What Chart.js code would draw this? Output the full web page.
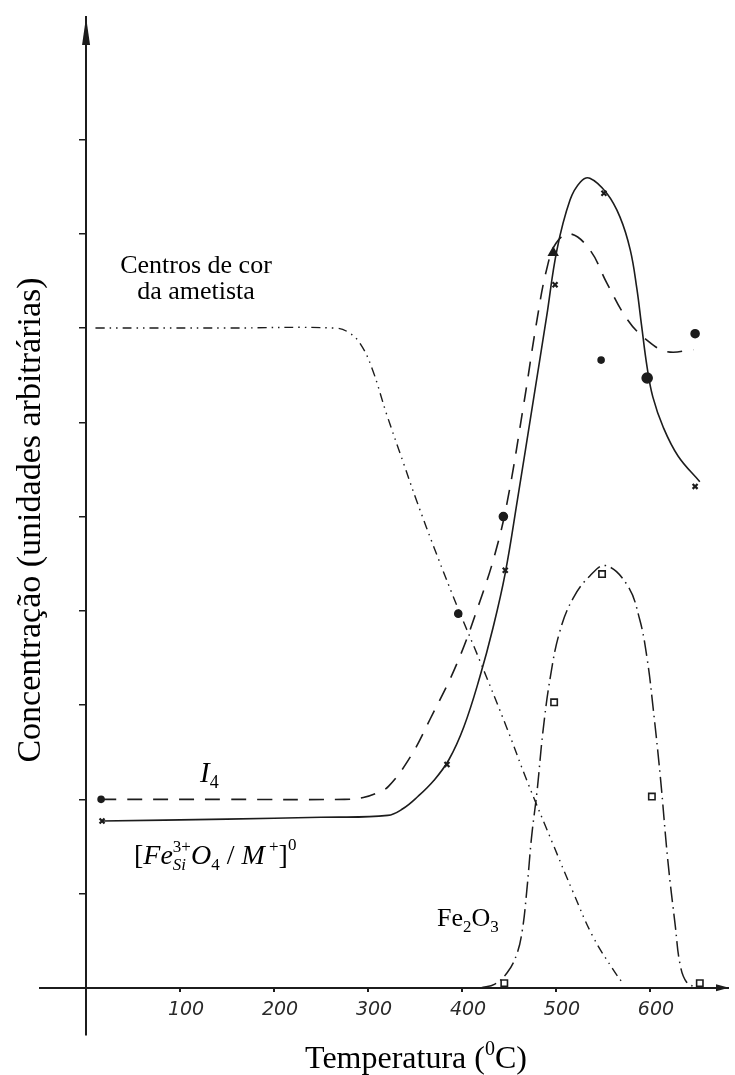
<!DOCTYPE html>
<html lang="pt">
<head>
<meta charset="utf-8">
<title>Concentração x Temperatura</title>
<script src="https://cdn.jsdelivr.net/npm/chart.js@4.4.1/dist/chart.umd.min.js"></script>
<style>
  html, body { margin: 0; padding: 0; background: #fff; }
  #chart { display: block; }
</style>
</head>
<body>
<canvas id="chart" width="735" height="1075"></canvas>
<script>
// curves: temperature (0C) vs concentration (1 unit = one axis tick)
const feSiTemp = [17, 150, 250, 321, 337, 353, 370, 386, 402, 419, 433, 446, 459, 476, 490, 501, 515, 526, 536, 554, 568, 579, 586, 591, 597, 603, 614, 630, 653];
const feSiConc = [1.77, 1.79, 1.81, 1.83, 1.9, 2.03, 2.2, 2.42, 2.77, 3.3, 3.82, 4.4, 5.18, 6.24, 7.12, 7.83, 8.36, 8.55, 8.59, 8.43, 8.18, 7.83, 7.42, 7.03, 6.58, 6.27, 5.95, 5.64, 5.37];

const i4Temp = [16, 150, 275, 295, 310, 322, 345, 366, 395, 419, 435, 448, 465, 480, 490, 500, 515, 536, 554, 576, 597, 618, 646];
const i4Conc = [2.0, 2.0, 2.0, 2.02, 2.07, 2.14, 2.45, 2.85, 3.45, 4.1, 4.6, 5.15, 6.15, 7.1, 7.62, 7.9, 8.0, 7.83, 7.48, 7.09, 6.87, 6.75, 6.77];

const centrosTemp = [10, 150, 265, 280, 292, 304, 320, 338, 352, 373, 396, 419, 448, 469, 497, 518, 539, 561, 571];
const centrosConc = [7.0, 7.0, 7.0, 6.95, 6.83, 6.58, 6.08, 5.56, 5.16, 4.6, 4.02, 3.47, 2.75, 2.2, 1.52, 1.02, 0.55, 0.19, 0.05];

const fe2o3Temp = [420, 435, 448, 458, 464, 469, 474, 480, 486, 494, 504, 518, 536, 553, 576, 589, 597, 603, 611, 619, 627, 632, 639, 650];
const fe2o3Conc = [0, 0.04, 0.16, 0.35, 0.6, 1.04, 1.6, 2.1, 2.71, 3.3, 3.78, 4.13, 4.37, 4.48, 4.27, 3.91, 3.49, 3.0, 2.24, 1.35, 0.65, 0.25, 0.06, 0];

// measured points
const feSiPtTemp = [17, 384, 446, 499, 551, 648];
const feSiPtConc = [1.77, 2.37, 4.43, 7.46, 8.43, 5.32];
const i4PtTemp = [16, 444, 548, 597, 648];
const i4PtConc = [2.0, 5.0, 6.66, 6.47, 6.94];
const centrosPtTemp = [396];
const centrosPtConc = [3.97];
const trianglePtTemp = [497];
const trianglePtConc = [7.8];
const fe2o3PtTemp = [445, 498, 549, 602, 653];
const fe2o3PtConc = [0.05, 3.03, 4.39, 2.03, 0.05];

const xTicks = [100, 200, 300, 400, 500, 600];
const yTicks = [1, 2, 3, 4, 5, 6, 7, 8, 9];

const ink = "#1c1c1c";
const pts = (xs, ys) => xs.map((t, i) => ({ x: t, y: ys[i] }));

function curve(xs, ys, dash, width) {
  return {
    data: pts(xs, ys),
    showLine: true,
    borderColor: ink,
    borderWidth: width,
    borderDash: dash,
    tension: 0.4,
    pointRadius: 0,
    fill: false,
  };
}

function marks(xs, ys, style, radius, filled, lw) {
  return {
    data: pts(xs, ys),
    showLine: false,
    pointStyle: style,
    pointRadius: radius,
    pointBorderWidth: lw || 1.6,
    pointBorderColor: ink,
    pointBackgroundColor: filled ? ink : "#fff",
  };
}

// draws text made of pieces with sub/superscripts
function richText(ctx, x, y, parts) {
  let cx = x;
  let held = 0;
  parts.forEach((p) => {
    ctx.font = p.f;
    ctx.fillText(p.t, cx, y + (p.dy || 0));
    const w = ctx.measureText(p.t).width;
    if (p.keep) {
      held = Math.max(held, w);
    } else {
      cx += Math.max(held, w);
      held = 0;
    }
  });
  return cx;
}

const serif = "'Liberation Serif', 'Times New Roman', serif";

const figureText = {
  id: "figureText",
  afterDraw(chart) {
    const ctx = chart.ctx;
    const xs = chart.scales.x;
    const ys = chart.scales.y;
    const x0 = xs.getPixelForValue(0);
    const y0 = ys.getPixelForValue(0);
    const area = chart.chartArea;

    ctx.save();
    ctx.fillStyle = ink;

    // arrow heads
    ctx.beginPath();
    ctx.moveTo(x0, area.top);
    ctx.lineTo(x0 - 4, area.top + 28);
    ctx.lineTo(x0 + 4, area.top + 28);
    ctx.closePath();
    ctx.fill();

    ctx.beginPath();
    ctx.moveTo(area.right + 1, y0);
    ctx.lineTo(area.right - 12, y0 - 3.5);
    ctx.lineTo(area.right - 12, y0 + 3.5);
    ctx.closePath();
    ctx.fill();

    ctx.textBaseline = "alphabetic";
    ctx.fillStyle = "#000";

    // series labels
    ctx.textAlign = "center";
    ctx.font = "26px " + serif;
    ctx.fillText("Centros de cor", 196, 273);
    ctx.fillText("da ametista", 196, 299);
    ctx.textAlign = "left";

    richText(ctx, 200, 782, [
      { t: "I", f: "italic 29px " + serif },
      { t: "4", f: "18px " + serif, dy: 6 },
    ]);

    const big = "28px " + serif;
    const bigI = "italic 28px " + serif;
    const small = "17px " + serif;
    const smallI = "italic 17px " + serif;
    richText(ctx, 134, 864, [
      { t: "[", f: big },
      { t: "Fe", f: bigI },
      { t: "3+", f: small, dy: -12, keep: true },
      { t: "Si", f: smallI, dy: 6 },
      { t: "O", f: bigI },
      { t: "4", f: small, dy: 6 },
      { t: " / ", f: big },
      { t: "M", f: bigI },
      { t: " +", f: small, dy: -12 },
      { t: "]", f: big },
      { t: "0", f: small, dy: -14 },
    ]);

    richText(ctx, 437, 926, [
      { t: "Fe", f: "26px " + serif },
      { t: "2", f: "17px " + serif, dy: 6 },
      { t: "O", f: "26px " + serif },
      { t: "3", f: "17px " + serif, dy: 6 },
    ]);

    // axis titles
    ctx.save();
    ctx.translate(40, 520);
    ctx.rotate(-Math.PI / 2);
    ctx.textAlign = "center";
    ctx.font = "34px " + serif;
    ctx.fillText("Concentração (unidades arbitrárias)", 0, 0);
    ctx.restore();

    const parts = [
      { t: "Temperatura (", f: "32px " + serif },
      { t: "0", f: "20px " + serif, dy: -13 },
      { t: "C)", f: "32px " + serif },
    ];
    let total = 0;
    parts.forEach((p) => {
      ctx.font = p.f;
      total += ctx.measureText(p.t).width;
    });
    richText(ctx, 416 - total / 2, 1068, parts);

    ctx.restore();
  },
};

new Chart(document.getElementById("chart"), {
  type: "scatter",
  data: {
    datasets: [
      curve(feSiTemp, feSiConc, [], 1.6),
      curve(i4Temp, i4Conc, [15, 11], 1.6),
      curve(centrosTemp, centrosConc, [9, 5, 1.5, 5, 1.5, 5], 1.4),
      curve(fe2o3Temp, fe2o3Conc, [16, 5, 1.5, 5], 1.5),
      marks(feSiPtTemp, feSiPtConc, "crossRot", 3.5, false, 2.2),
      marks(i4PtTemp, i4PtConc, "circle", [3, 4, 3, 5, 4], true),
      marks(centrosPtTemp, centrosPtConc, "circle", 3.5, true),
      marks(trianglePtTemp, trianglePtConc, "triangle", 5, true),
      marks(fe2o3PtTemp, fe2o3PtConc, "rect", 4.5, false),
    ],
  },
  options: {
    responsive: false,
    animation: false,
    events: [],
    layout: {
      padding: { top: 17, right: 7, bottom: 40, left: 40 },
    },
    plugins: {
      legend: { display: false },
      tooltip: { enabled: false },
      title: { display: false },
    },
    scales: {
      x: {
        type: "linear",
        min: -49,
        max: 683,
        position: { y: 0 },
        afterBuildTicks: (scale) => {
          scale.ticks = xTicks.map((v) => ({ value: v }));
        },
        border: { display: true, color: ink, width: 2 },
        grid: { drawOnChartArea: false, drawTicks: true, tickLength: 3, color: ink, lineWidth: 2 },
        ticks: {
          color: "#2a2a2a",
          padding: 8,
          labelOffset: 6,
          maxRotation: 0,
          font: { family: "'DejaVu Sans', sans-serif", size: 19, style: "italic" },
        },
      },
      y: {
        type: "linear",
        min: -0.5,
        max: 10.3,
        position: { x: 0 },
        afterBuildTicks: (scale) => {
          scale.ticks = yTicks.map((v) => ({ value: v }));
        },
        border: { display: true, color: ink, width: 2 },
        grid: { drawOnChartArea: false, drawTicks: true, tickLength: 6, color: ink, lineWidth: 1.5 },
        ticks: { display: false },
      },
    },
  },
  plugins: [figureText],
});
</script>
</body>
</html>
